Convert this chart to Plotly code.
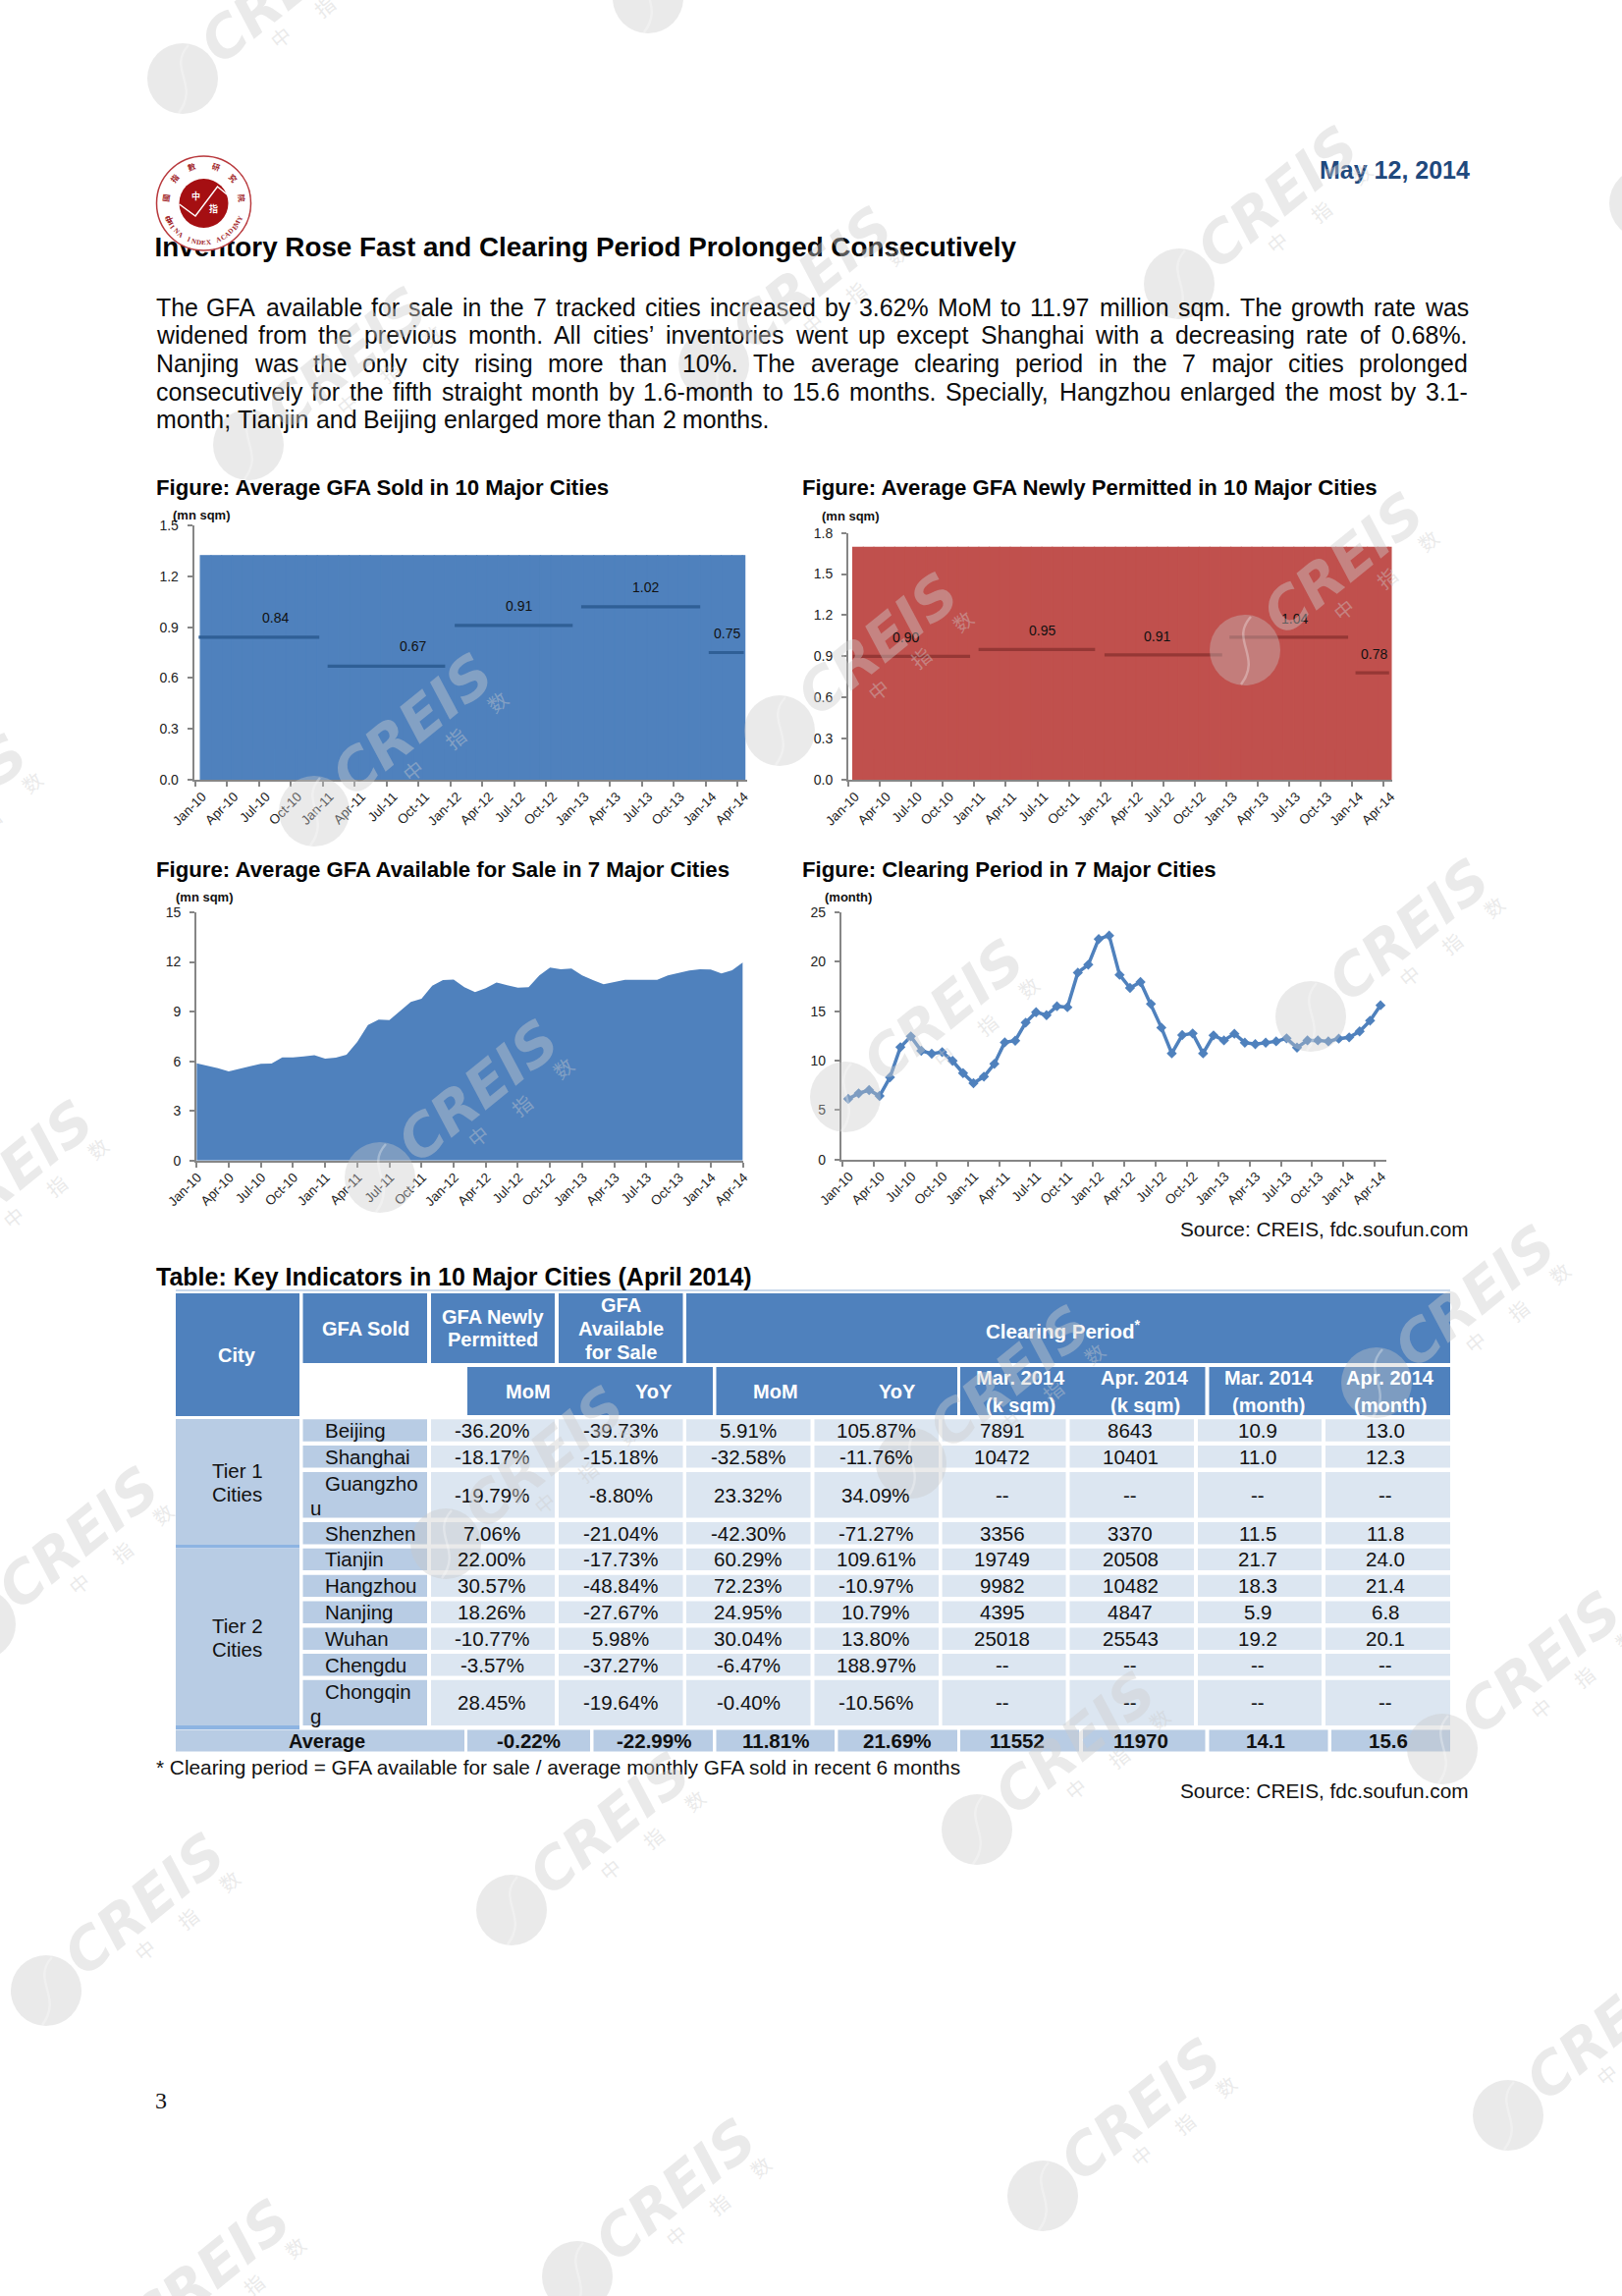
import math
import plotly.graph_objects as go

W, H = 1652, 2338
BLUE, RED = "#4F81BD", "#C0504D"
AXIS = "#868686"
TXT = "#111111"
FONT = "Liberation Sans"

# ---------- chart data ----------
month_pos = list(range(52))
tick_pos = [0, 3, 6, 9, 12, 15, 18, 21, 24, 27, 30, 33, 36, 39, 42, 45, 48, 51]
tick_labels = ["Jan-10", "Apr-10", "Jul-10", "Oct-10", "Jan-11", "Apr-11", "Jul-11", "Oct-11", "Jan-12",
               "Apr-12", "Jul-12", "Oct-12", "Jan-13", "Apr-13", "Jul-13", "Oct-13", "Jan-14", "Apr-14"]

sold_monthly = [1.322, 1.322, 1.322, 1.322, 1.322, 1.322, 1.322, 1.322, 1.322, 1.322, 1.322, 1.322, 1.322,
                1.322, 1.322, 1.322, 1.322, 1.322, 1.322, 1.322, 1.322, 1.322, 1.322, 1.322, 1.322, 1.322,
                1.322, 1.322, 1.322, 1.322, 1.322, 1.322, 1.322, 1.322, 1.322, 1.322, 1.322, 1.322, 1.322,
                1.322, 1.322, 1.322, 1.322, 1.322, 1.322, 1.322, 1.322, 1.322, 1.322, 1.322, 1.322, 1.322]
sold_avg = [0.84, 0.67, 0.91, 1.02, 0.75]
sold_start = [0.31, 12.44, 24.4, 36.3, 48.3]
sold_end = [11.66, 23.5, 35.5, 47.5, 51.6]
sold_label_x = [7.5, 20.5, 30.4, 42.4, 50.06]

permit_monthly = [1.695, 1.695, 1.695, 1.695, 1.695, 1.695, 1.695, 1.695, 1.695, 1.695, 1.695, 1.695, 1.695,
                  1.695, 1.695, 1.695, 1.695, 1.695, 1.695, 1.695, 1.695, 1.695, 1.695, 1.695, 1.695, 1.695,
                  1.695, 1.695, 1.695, 1.695, 1.695, 1.695, 1.695, 1.695, 1.695, 1.695, 1.695, 1.695, 1.695,
                  1.695, 1.695, 1.695, 1.695, 1.695, 1.695, 1.695, 1.695, 1.695, 1.695, 1.695, 1.695, 1.695]
permit_avg = [0.90, 0.95, 0.91, 1.04, 0.78]
permit_start = [0.43, 12.4, 24.4, 36.3, 48.3]
permit_end = [11.6, 23.5, 35.6, 47.6, 51.5]
permit_label_x = [5.47, 18.5, 29.4, 42.5, 50.04]

available = [5.88, 5.74, 5.58, 5.38, 5.56, 5.70, 5.84, 5.86, 6.23, 6.23, 6.29, 6.37, 6.15, 6.21, 6.39, 7.16,
             8.19, 8.51, 8.49, 9.06, 9.58, 9.78, 10.57, 10.90, 10.94, 10.47, 10.17, 10.41, 10.76, 10.60, 10.45,
             10.47, 11.18, 11.66, 11.56, 11.60, 11.18, 10.90, 10.65, 10.79, 10.92, 10.92, 10.90, 10.92, 11.18,
             11.32, 11.48, 11.56, 11.54, 11.30, 11.50, 11.97]
clearing = [6.13, 6.69, 7.02, 6.42, 8.31, 11.36, 12.45, 10.99, 10.70, 10.86, 9.97, 8.74, 7.72, 8.38, 9.67, 11.85,
            12.02, 13.84, 14.90, 14.60, 15.50, 15.40, 18.90, 19.70, 22.30, 22.65, 18.68, 17.35, 17.95, 15.73,
            13.34, 10.73, 12.58, 12.75, 10.73, 12.55, 12.05, 12.72, 11.82, 11.66, 11.82, 11.95, 12.25, 11.32,
            12.05, 12.05, 11.95, 12.22, 12.35, 12.95, 14.04, 15.60]

# ---------- table data ----------
cities = ["Beijing", "Shanghai", "Guangzhou", "Shenzhen", "Tianjin", "Hangzhou", "Nanjing", "Wuhan", "Chengdu", "Chongqing"]
sold_mom = ["-36.20%", "-18.17%", "-19.79%", "7.06%", "22.00%", "30.57%", "18.26%", "-10.77%", "-3.57%", "28.45%"]
sold_yoy = ["-39.73%", "-15.18%", "-8.80%", "-21.04%", "-17.73%", "-48.84%", "-27.67%", "5.98%", "-37.27%", "-19.64%"]
permit_mom = ["5.91%", "-32.58%", "23.32%", "-42.30%", "60.29%", "72.23%", "24.95%", "30.04%", "-6.47%", "-0.40%"]
permit_yoy = ["105.87%", "-11.76%", "34.09%", "-71.27%", "109.61%", "-10.97%", "10.79%", "13.80%", "188.97%", "-10.56%"]
stock_mar = ["7891", "10472", "--", "3356", "19749", "9982", "4395", "25018", "--", "--"]
stock_apr = ["8643", "10401", "--", "3370", "20508", "10482", "4847", "25543", "--", "--"]
period_mar = ["10.9", "11.0", "--", "11.5", "21.7", "18.3", "5.9", "19.2", "--", "--"]
period_apr = ["13.0", "12.3", "--", "11.8", "24.0", "21.4", "6.8", "20.1", "--", "--"]
average_row = ["-0.22%", "-22.99%", "11.81%", "21.69%", "11552", "11970", "14.1", "15.6"]

body_lines = [
    "The GFA available for sale in the 7 tracked cities increased by 3.62% MoM to 11.97 million sqm. The growth rate was",
    "widened from the previous month. All cities\u2019 inventories went up except Shanghai with a decreasing rate of 0.68%.",
    "Nanjing was the only city rising more than 10%. The average clearing period in the 7 major cities prolonged",
    "consecutively for the fifth straight month by 1.6-month to 15.6 months. Specially, Hangzhou enlarged the most by 3.1-",
    "month; Tianjin and Beijing enlarged more than 2 months.",
]

# ---------- helpers ----------
anns, shapes = [], []


def fx(p):
    return p / W


def fy(p):
    return 1 - p / H


def txt(x, y, s, size=20, color=TXT, bold=False, xa="center", family=FONT, angle=0):
    anns.append(dict(x=fx(x), y=fy(y), xref="paper", yref="paper", text=f"<b>{s}</b>" if bold else s,
                     showarrow=False, xanchor=xa, yanchor="middle", textangle=angle, borderpad=0,
                     font=dict(size=size, color=color, family=family)))


def rect(x0, y0, x1, y1, color):
    shapes.append(dict(type="rect", xref="paper", yref="paper", x0=fx(x0), x1=fx(x1), y0=fy(y0), y1=fy(y1),
                       fillcolor=color, line=dict(width=0), layer="above"))


def circle(cx, cy, r, fill, line=None, lw=0):
    shapes.append(dict(type="circle", xref="paper", yref="paper", x0=fx(cx - r), x1=fx(cx + r), y0=fy(cy + r),
                       y1=fy(cy - r), fillcolor=fill, line=dict(width=lw, color=line or fill), layer="above"))


def path(points, color, width):
    d = "M" + " L".join(f"{fx(a):.5f},{fy(b):.5f}" for a, b in points)
    shapes.append(dict(type="path", xref="paper", yref="paper", path=d, line=dict(color=color, width=width), layer="above"))


AFM = {" ": 278, "a": 556, "b": 556, "c": 500, "d": 556, "e": 556, "f": 278, "g": 556, "h": 556, "i": 222, "j": 222,
       "k": 500, "l": 222, "m": 833, "n": 556, "o": 556, "p": 556, "q": 556, "r": 333, "s": 500, "t": 278, "u": 556,
       "v": 500, "w": 722, "x": 500, "y": 500, "z": 500, "A": 667, "B": 667, "C": 722, "D": 722, "E": 667, "F": 611,
       "G": 778, "H": 722, "I": 278, "J": 500, "K": 667, "L": 556, "M": 833, "N": 722, "O": 778, "P": 667, "Q": 778,
       "R": 722, "S": 667, "T": 611, "U": 722, "V": 667, "W": 944, "X": 667, "Y": 667, "Z": 611, ".": 278, ",": 278,
       "-": 333, "%": 889, ";": 278, "\u2019": 222}


def em(s):
    return sum(AFM.get(c, 556) for c in s) / 1000


def justified(line, y, left, right, size, justify=True):
    words = line.split(" ")
    widths = [em(w) * size for w in words]
    gap = (right - left - sum(widths)) / (len(words) - 1) if justify else 0.278 * size
    x = left
    for w, wd in zip(words, widths):
        txt(x, y, w, size=size, xa="left", color="#0c0c0c")
        x += wd + gap


# ---------- figure ----------
fig = go.Figure()

AX = dict(showgrid=False, zeroline=False, showline=True, linecolor=AXIS, linewidth=2, ticks="outside", ticklen=5,
          tickwidth=1.5, tickcolor=AXIS, automargin=False, tickfont=dict(size=14, color="#222222", family=FONT))


def axes(n, left, right, top, bottom, xr, yr, dtick, fmt, xticks, shift):
    s = "" if n == 1 else str(n)
    return {
        f"xaxis{s}": dict(AX, domain=[fx(left), fx(right)], range=xr, anchor=f"y{s}", tickmode="array", tickvals=xticks,
                          ticktext=tick_labels, tickangle=-45, ticklabelstandoff=-3, ticklabelshift=shift,
                          tickfont=dict(size=13.5, color="#222222", family=FONT)),
        f"yaxis{s}": dict(AX, domain=[fy(bottom), fy(top)], range=yr, anchor=f"x{s}", tickmode="linear", tick0=0,
                          dtick=dtick, tickformat=fmt, ticklabelstandoff=6),
    }


layout_axes = {}
layout_axes.update(axes(1, 197.7, 760.8, 535, 794, [-0.12, 51.9], [0, 1.5], 0.3, ".1f", tick_pos, 7))
layout_axes.update(axes(2, 864, 1418, 542.7, 794, [0, 51.8], [0, 1.8], 0.3, ".1f", tick_pos, 7))
layout_axes.update(axes(3, 200.2, 756.6, 929, 1181.7, [0, 51], [0, 15], 3, "d", tick_pos, 1))
layout_axes.update(axes(4, 856.8, 1412, 929, 1180.7, [-0.67, 51.56], [0, 25], 5, "d", [t - 0.55 for t in tick_pos], 7))
# hidden page-sized axes: the heading is a text trace so the logo can sit on top of it
layout_axes["xaxis5"] = dict(domain=[0, 1], range=[0, W], visible=False, anchor="y5", automargin=False)
layout_axes["yaxis5"] = dict(domain=[0, 1], range=[H, 0], visible=False, anchor="x5", automargin=False)


def block_chart(n, values, color, dark, avg, start, end, label_x, off, last_w, shift):
    s = "" if n == 1 else str(n)
    fig.add_trace(go.Bar(x=month_pos, y=values, width=[1] * 51 + [last_w], offset=off, marker=dict(color=color, line=dict(color=color, width=1.2)),
                         xaxis=f"x{s}", yaxis=f"y{s}", showlegend=False, hoverinfo="skip"))
    for a, b, v, lx in zip(start, end, avg, label_x):
        fig.add_trace(go.Scatter(x=[a, b], y=[v, v], mode="lines", line=dict(color=dark, width=3.2), xaxis=f"x{s}",
                                 yaxis=f"y{s}", showlegend=False, hoverinfo="skip"))
        anns.append(dict(x=lx, y=v, xref=f"x{s}", yref=f"y{s}", text=f"{v:.2f}", showarrow=False, yshift=shift,
                         xanchor="center", yanchor="middle", font=dict(size=14, color="#111111", family=FONT)))


block_chart(1, sold_monthly, BLUE, "#2F5F96", sold_avg, sold_start, sold_end, sold_label_x, 0.47, 0.23, 20)
block_chart(2, permit_monthly, RED, "#953735", permit_avg, permit_start, permit_end, permit_label_x, 0.43, 0.27, 19)
fig.add_trace(go.Scatter(x=month_pos, y=available, mode="lines", fill="tozeroy", fillcolor=BLUE, line=dict(width=0, color=BLUE),
                         xaxis="x3", yaxis="y3", showlegend=False, hoverinfo="skip"))
fig.add_trace(go.Scatter(x=month_pos, y=clearing, mode="lines+markers", line=dict(color=BLUE, width=3.5),
                         marker=dict(symbol="diamond", size=8, color=BLUE), xaxis="x4", yaxis="y4", showlegend=False,
                         hoverinfo="skip"))
fig.add_trace(go.Scatter(x=[157.5], y=[254], mode="text", text=["<b>Inventory Rose Fast and Clearing Period Prolonged Consecutively</b>"],
                         textposition="middle right", textfont=dict(size=27.8, color="#050505", family=FONT),
                         xaxis="x5", yaxis="y5", showlegend=False, hoverinfo="skip", cliponaxis=False))

# ---------- page text ----------
txt(1498, 173, "May 12, 2014", size=25, color="#1F497D", bold=True, xa="right")
for i, (ln, ly) in enumerate(zip(body_lines, [312.7, 341.3, 370, 398.7, 427.3])):
    justified(ln, ly, 157.5, 1494, 24.9, justify=i < 4)

txt(158, 497, "Figure: Average GFA Sold in 10 Major Cities", size=22.2, bold=True, xa="left", color="#050505")
txt(816, 497, "Figure: Average GFA Newly Permitted in 10 Major Cities", size=22.2, bold=True, xa="left", color="#050505")
txt(158, 886, "Figure: Average GFA Available for Sale in 7 Major Cities", size=22.2, bold=True, xa="left", color="#050505")
txt(816, 886, "Figure: Clearing Period in 7 Major Cities", size=22.2, bold=True, xa="left", color="#050505")
txt(205, 524, "(mn sqm)", size=13, bold=True)
txt(866.5, 525, "(mn sqm)", size=13, bold=True)
txt(209, 913, "(mn sqm)", size=13, bold=True)
txt(864, 913, "(month)", size=13, bold=True)
txt(1497, 1251, "Source: CREIS, fdc.soufun.com", size=20.8, xa="right")
txt(157.5, 1300, "Table: Key Indicators in 10 Major Cities (April 2014)", size=25, bold=True, xa="left", color="#050505")
txt(157.5, 1800, "* Clearing period = GFA available for sale / average monthly GFA sold in recent 6 months", size=20.8, xa="left")
txt(1497, 1823, "Source: CREIS, fdc.soufun.com", size=20.8, xa="right")
txt(164, 2139, "3", size=24, family="Liberation Serif")

# ---------- table ----------
HEAD, NAME, CELL, RULE = BLUE, "#B8CCE4", "#DCE6F1", "#8DB4E2"
path([(179, 1314), (1477, 1314)], "#B8CCE4", 1.5)
rect(179, 1317, 305, 1442, HEAD)
for a, b in [(308.5, 435), (439, 565), (569, 695.5), (699, 1477)]:
    rect(a, 1317, b, 1388, HEAD)
for a, b in [(476, 726), (729.5, 975), (978, 1227.5), (1231.5, 1477)]:
    rect(a, 1392, b, 1441, HEAD)
txt(241.5, 1380, "City", bold=True, color="white")
txt(372, 1353, "GFA Sold", bold=True, color="white")
txt(502, 1341, "GFA Newly", bold=True, color="white")
txt(502, 1364, "Permitted", bold=True, color="white")
txt(632, 1329, "GFA", bold=True, color="white")
txt(632, 1353, "Available", bold=True, color="white")
txt(632, 1377, "for Sale", bold=True, color="white")
txt(1083, 1354, "Clearing Period<sup>*</sup>", bold=True, color="white", size=20.5)
for xc, label in [(538, "MoM"), (665.6, "YoY"), (790, "MoM"), (913.7, "YoY")]:
    txt(xc, 1417, label, bold=True, color="white")
for xc, l1, l2 in [(1039, "Mar. 2014", "(k sqm)"), (1166, "Apr. 2014", "(k sqm)"), (1292, "Mar. 2014", "(month)"), (1416, "Apr. 2014", "(month)")]:
    txt(xc, 1403, l1, bold=True, color="white")
    txt(xc, 1430.5, l2, bold=True, color="white")

row_edges = [(1445.3, 1467.7), (1472, 1494.5), (1499, 1545.5), (1550, 1572.4), (1576.8, 1599), (1603.7, 1626),
             (1630.5, 1653), (1657.4, 1680), (1684, 1706.6), (1710.8, 1757)]
col_edges = [(439, 565), (569, 695.5), (699, 825.5), (829.5, 956), (959.6, 1085.5), (1089.5, 1216), (1220, 1346), (1350, 1477)]
col_text = [501, 632, 762, 892, 1021, 1151, 1281, 1411]
columns = [sold_mom, sold_yoy, permit_mom, permit_yoy, stock_mar, stock_apr, period_mar, period_apr]

rect(179, 1445, 305, 1573, NAME)
rect(179, 1573, 305, 1576.5, RULE)
rect(179, 1576.5, 305, 1757, NAME)
rect(179, 1757, 305, 1761, RULE)
txt(241.5, 1497, "Tier 1", size=20.5)
txt(241.5, 1521, "Cities", size=20.5)
txt(241.5, 1655, "Tier 2", size=20.5)
txt(241.5, 1679, "Cities", size=20.5)

for r, (top, bot) in enumerate(row_edges):
    rect(308.5, top, 435, bot, NAME)
    name = cities[r]
    if bot - top > 30:
        txt(330, top + 12, name[:-1], xa="left", size=20.5)
        txt(315, bot - 10, name[-1], xa="left", size=20.5)
    else:
        txt(330, (top + bot) / 2, name, xa="left", size=20.5)
    for (a, b), xc, col in zip(col_edges, col_text, columns):
        rect(a, top, b, bot, CELL)
        txt(xc, (top + bot) / 2, col[r], size=20.5)

rect(179, 1761.4, 473, 1783.4, NAME)
txt(333, 1772.5, "Average", bold=True)
avg_edges = [(476, 601), (604.5, 726), (729.5, 850), (853.4, 975), (978, 1099), (1103, 1227.5), (1231.5, 1352.5), (1356, 1477)]
avg_text = [538, 665.6, 790, 914, 1036, 1162, 1289, 1414]
for (a, b), xc, v in zip(avg_edges, avg_text, average_row):
    rect(a, 1761.4, b, 1783.4, NAME)
    txt(xc, 1772.5, v, bold=True, size=20.5)

# ---------- logo ----------
LX, LY = 207.5, 207
circle(LX, LY, 48, "white", "#B8383C", 1.5)
circle(LX, LY, 25, "#A50F12")
path([(182.7, 208), (199, 220), (221.5, 190), (233.6, 200)], "white", 1.5)
txt(199, 200, "\u4e2d", size=9, color="white", family="Noto Sans CJK SC", bold=True)
txt(217, 213, "\u6307", size=9, color="white", family="Noto Sans CJK SC", bold=True)
for deg, ch in zip([-205, -172, -140, -108, -72, -40, -8], "\u4e2d\u570b\u6307\u6578\u7814\u7a76\u9662"):
    a = math.radians(deg)
    txt(LX + 39 * math.cos(a), LY + 39 * math.sin(a), ch, size=8, color="#A02226", family="Noto Sans CJK SC", bold=True, angle=deg + 90)
label = "CHINA INDEX ACADEMY"
for k, ch in enumerate(label):
    deg = 157 - k * (134 / (len(label) - 1))
    a = math.radians(deg)
    if ch != " ":
        txt(LX + 40 * math.cos(a), LY + 40 * math.sin(a), ch, size=7, color="#A02226", family="Liberation Serif", bold=True, angle=deg - 90)

# ---------- watermark ----------
WM = "rgba(205,205,205,0.42)"
for i in range(-3, 5):
    for j in range(-1, 8):
        cx, cy = 186 + 474 * i + 67 * j, 80 - 82 * i + 373 * j
        if -340 < cx < W + 60 and -60 < cy < H + 240:
            circle(cx, cy, 36, "rgba(200,200,200,0.38)")
            shapes.append(dict(type="path", xref="paper", yref="paper", layer="above",
                               path=f"M{fx(cx + 6):.5f},{fy(cy - 34):.5f} C{fx(cx - 16):.5f},{fy(cy - 10):.5f} {fx(cx + 18):.5f},{fy(cy + 6):.5f} {fx(cx - 4):.5f},{fy(cy + 35):.5f}",
                               line=dict(color="rgba(255,255,255,0.3)", width=2.5)))

for i in range(-3, 5):
    for j in range(-1, 8):
        cx, cy = 186 + 474 * i + 67 * j, 80 - 82 * i + 373 * j
        if -340 < cx < W + 60 and -60 < cy < H + 240:
            anns.append(dict(x=fx(cx + 100), y=fy(cy - 88), xref="paper", yref="paper", text="<b><i>CREIS</i></b>", showarrow=False,
                             textangle=-39, font=dict(size=58, color=WM, family="DejaVu Sans"), xanchor="center", yanchor="middle"))
            for (dx, dy), ch in zip([(100, -42), (144, -74), (186, -112)], "\u4e2d\u6307\u6570"):
                anns.append(dict(x=fx(cx + dx), y=fy(cy + dy), xref="paper", yref="paper", text=ch, showarrow=False, textangle=-39,
                                 font=dict(size=20, color=WM, family="Noto Sans CJK SC"), xanchor="center", yanchor="middle"))

fig.update_layout(width=W, height=H, autosize=False, margin=dict(l=0, r=0, t=0, b=0), paper_bgcolor="white", plot_bgcolor="rgba(0,0,0,0)",
                  barmode="overlay", showlegend=False, annotations=anns, shapes=shapes, font=dict(family=FONT), **layout_axes)
fig.write_html("out.html", config=dict(displayModeBar=False), post_script="document.body.style.margin='0';")
